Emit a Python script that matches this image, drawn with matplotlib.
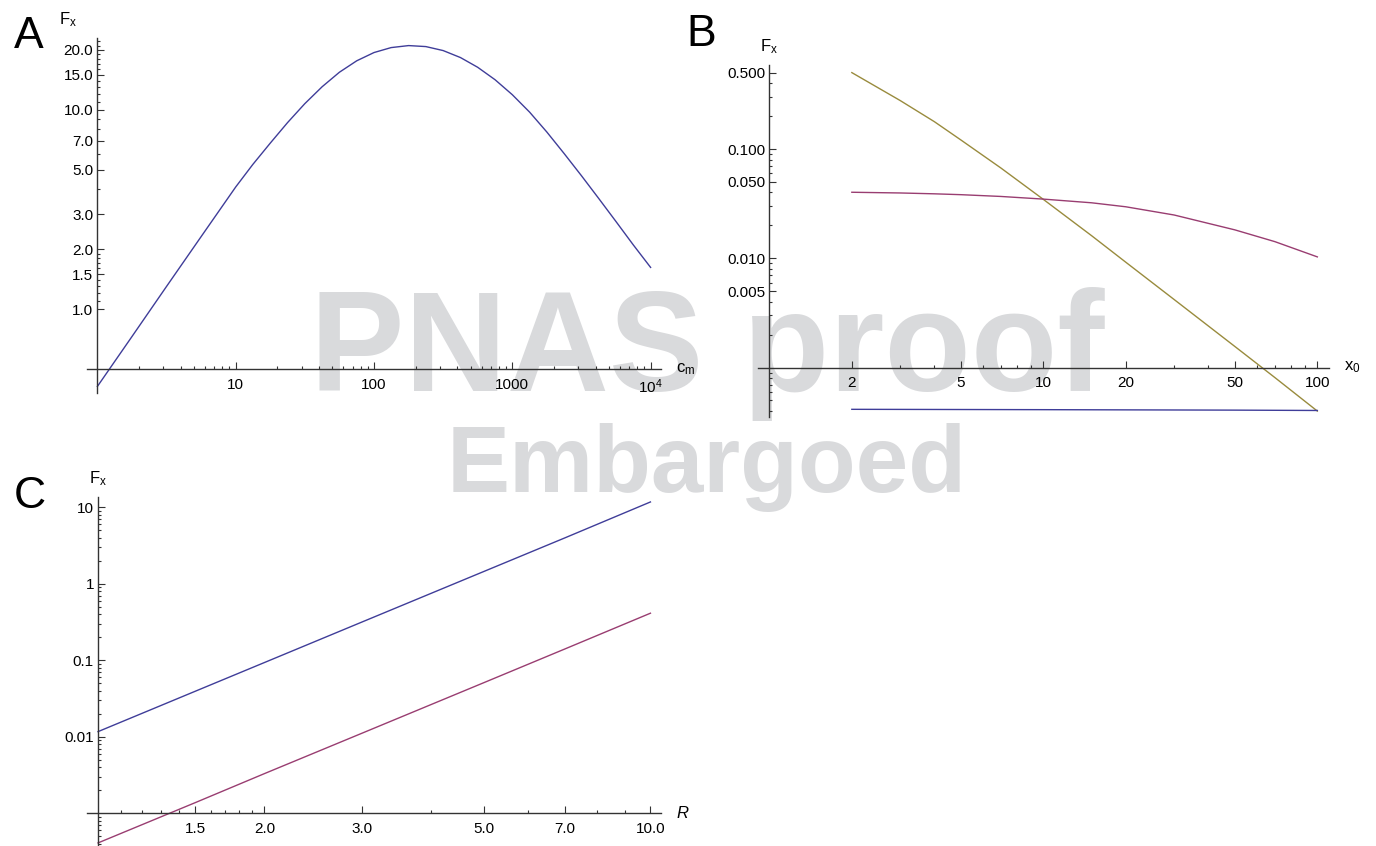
import matplotlib
matplotlib.use("Agg")
import matplotlib.pyplot as plt
from matplotlib.ticker import NullFormatter

plt.rcParams['font.family'] = ['Liberation Sans', 'DejaVu Sans']
plt.rcParams['mathtext.fontset'] = 'custom'
plt.rcParams['mathtext.rm'] = 'Liberation Sans'
plt.rcParams['mathtext.it'] = 'Liberation Sans:italic'

# panel A: F_x vs c_m
cm = [1, 1.78, 3.16, 5.62, 10, 13.3, 17.8, 23.7, 31.6, 42.2, 56.2, 75, 100, 133, 178,
      237, 316, 422, 562, 750, 1000, 1334, 1778, 2371, 3162, 4217, 5623, 7499, 10000]
fx_a = [0.41, 0.73, 1.30, 2.31, 4.10, 5.32, 6.81, 8.62, 10.73, 13.05, 15.42, 17.60, 19.36,
        20.50, 20.98, 20.74, 19.81, 18.27, 16.33, 14.15, 11.90, 9.73, 7.73, 6.03, 4.67,
        3.59, 2.75, 2.10, 1.62]

# panel B: F_x vs x_0
x0 = [2, 3, 4, 5, 7, 10, 15, 20, 30, 50, 70, 100]
fx_b_yellow = [0.5, 0.278, 0.178, 0.121, 0.067, 0.0346, 0.0161, 0.0092, 0.0042,
               0.00156, 0.00081, 0.00040]
fx_b_purple = [0.0402, 0.0396, 0.0389, 0.0382, 0.0368, 0.0348, 0.0322, 0.0296, 0.0249,
               0.0182, 0.0142, 0.0103]
x0_blue = [2, 10, 50, 100]
fx_b_blue = [4.15e-4, 4.12e-4, 4.08e-4, 4.05e-4]

# panel C: F_x vs R
R = [1, 1.5, 2, 3, 5, 7, 10]
fx_c_blue = [0.0117, 0.0395, 0.0936, 0.316, 1.46, 4.0, 11.8]
fx_c_purple = [4.1e-4, 1.38e-3, 3.3e-3, 0.0111, 0.0513, 0.141, 0.414]

BLUE = '#3f3d99'
PURPLE = '#993d71'
OLIVE = '#998b3d'
AX = '#333333'

W, H = 1376, 846
fig = plt.figure(figsize=(W / 100, H / 100), dpi=100)


def box(l, t, r, b):
    return [l / W, 1 - b / H, (r - l) / W, (b - t) / H]


def style(ax, xlim, ylim, xo, yo):
    ax.set_xscale('log')
    ax.set_yscale('log')
    ax.patch.set_visible(False)
    ax.spines['top'].set_visible(False)
    ax.spines['right'].set_visible(False)
    ax.spines['left'].set_position(('data', xo))
    ax.spines['bottom'].set_position(('data', yo))
    for s in ['left', 'bottom']:
        ax.spines[s].set_color(AX)
        ax.spines[s].set_linewidth(1.0)
    ax.tick_params(which='both', direction='in', color=AX, width=0.8, labelsize=11)
    ax.tick_params(which='major', length=5)
    ax.tick_params(which='minor', length=2.5)
    ax.tick_params(axis='x', pad=6)
    ax.tick_params(axis='y', pad=3)
    ax.xaxis.set_minor_formatter(NullFormatter())
    ax.yaxis.set_minor_formatter(NullFormatter())


def finish(ax, xlim, ylim, xo, yo, xlab, fdx):
    # limits last, so the tick lists cannot widen them
    ax.set_xlim(xlim)
    ax.set_ylim(ylim)
    ax.annotate(xlab, xy=(1, yo), xycoords=ax.get_yaxis_transform(),
                xytext=(11, 0), textcoords='offset points',
                ha='left', va='center', fontsize=12)
    ax.annotate(r'$\mathrm{F_x}$', xy=(xo, 1), xycoords=ax.get_xaxis_transform(),
                xytext=(fdx, 13), textcoords='offset points',
                ha='center', va='center', fontsize=12)


# ---- A ----
axA = fig.add_axes(box(87, 38, 661, 393))
axA.plot(cm, fx_a, color=BLUE, lw=1.0)
style(axA, None, None, 1, 0.5)
axA.set_xticks([10, 100, 1000, 10000], ['10', '100', '1000', r'$10^4$'])
axA.set_xticks([k * 10 ** e for e in range(0, 4) for k in range(2, 10)], minor=True)
axA.set_yticks([1, 1.5, 2, 3, 5, 7, 10, 15, 20],
               ['1.0', '1.5', '2.0', '3.0', '5.0', '7.0', '10.0', '15.0', '20.0'])
axA.set_yticks([1.1, 1.2, 1.3, 1.4, 1.6, 1.7, 1.8, 1.9, 4, 6, 8, 9,
                11, 12, 13, 14, 16, 17, 18, 19, 21, 22], minor=True)
finish(axA, (0.841, 11890), (0.38, 22.9), 1, 0.5, r'$\mathrm{c_m}$', -21)

# ---- B ----
axB = fig.add_axes(box(758, 65, 1329, 417))
axB.plot(x0, fx_b_yellow, color=OLIVE, lw=1.0)
axB.plot(x0, fx_b_purple, color=PURPLE, lw=1.0)
axB.plot(x0_blue, fx_b_blue, color=BLUE, lw=1.0)
style(axB, None, None, 1, 0.001)
axB.set_xticks([2, 5, 10, 20, 50, 100], ['2', '5', '10', '20', '50', '100'])
axB.set_xticks([3, 4, 6, 7, 8, 9, 30, 40, 60, 70, 80, 90], minor=True)
axB.set_yticks([0.005, 0.01, 0.05, 0.1, 0.5], ['0.005', '0.010', '0.050', '0.100', '0.500'])
axB.set_yticks([4e-4, 5e-4, 6e-4, 7e-4, 8e-4, 9e-4, 0.001, 0.002, 0.003, 0.004,
                0.006, 0.007, 0.008, 0.009, 0.02, 0.03, 0.04, 0.06, 0.07, 0.08,
                0.09, 0.2, 0.3, 0.4], minor=True)
finish(axB, (0.909, 110.3), (3.53e-4, 0.587), 1, 0.001, r'$\mathrm{x_0}$', 0)

# ---- C ----
axC = fig.add_axes(box(87, 497, 661, 845))
axC.plot(R, fx_c_blue, color=BLUE, lw=1.0)
axC.plot(R, fx_c_purple, color=PURPLE, lw=1.0)
style(axC, None, None, 1, 0.001)
axC.set_xticks([1.5, 2, 3, 5, 7, 10], ['1.5', '2.0', '3.0', '5.0', '7.0', '10.0'])
axC.set_xticks([1.1, 1.2, 1.3, 1.4, 1.6, 1.7, 1.8, 1.9, 4, 6, 8, 9], minor=True)
axC.set_yticks([0.01, 0.1, 1, 10], ['0.01', '0.1', '1', '10'])
axC.set_yticks([k * 10.0 ** e for e in (-4, -3, -2, -1, 0, 1) for k in range(2, 10)
                if 3.9e-4 < k * 10.0 ** e < 13.7], minor=True)
finish(axC, (0.955, 10.45), (3.85e-4, 13.7), 1, 0.001, r'$R$', 0)

# panel letters
fig.text(14 / W, 1 - 48 / H, 'A', fontsize=32, va='baseline', ha='left')
fig.text(686 / W, 1 - 46 / H, 'B', fontsize=32, va='baseline', ha='left')
fig.text(14 / W, 1 - 508 / H, 'C', fontsize=32, va='baseline', ha='left')

# watermark
fig.text(707 / W, 1 - 391 / H, 'PNAS proof', fontsize=102, fontweight='bold',
         color='#d9dadc', ha='center', va='baseline', zorder=-5)
fig.text(707 / W, 1 - 492 / H, 'Embargoed', fontsize=68, fontweight='bold',
         color='#d9dadc', ha='center', va='baseline', zorder=-5)

fig.savefig('out.png', dpi=100, facecolor='white')
